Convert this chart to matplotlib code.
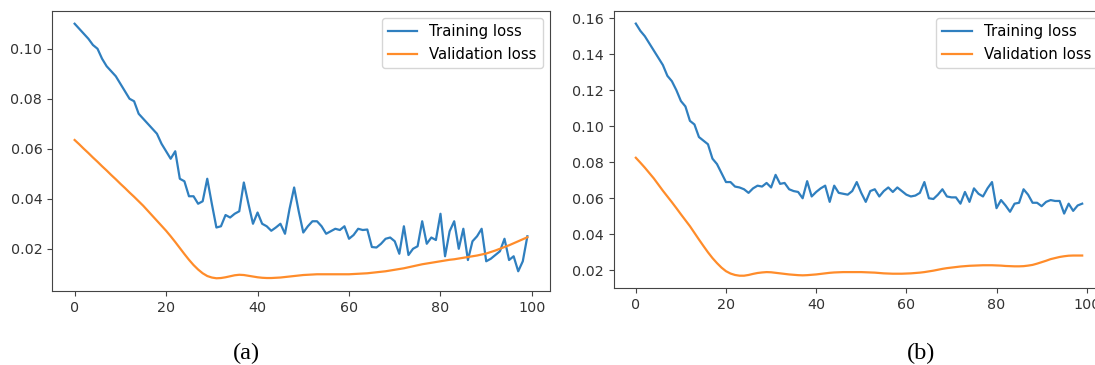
import numpy as np
import matplotlib
matplotlib.use('Agg')
import matplotlib.pyplot as plt

epochs = np.arange(100)

train_a = [
    0.110, 0.108, 0.106, 0.104, 0.1015, 0.100, 0.096, 0.093, 0.091, 0.089,
    0.086, 0.083, 0.080, 0.079, 0.074, 0.072, 0.070, 0.068, 0.066, 0.062,
    0.059, 0.056, 0.059, 0.048, 0.047, 0.041, 0.041, 0.038, 0.039, 0.048,
    0.038, 0.0285, 0.029, 0.0335, 0.0325, 0.034, 0.035, 0.0465, 0.038, 0.030,
    0.0345, 0.030, 0.029, 0.0272, 0.0285, 0.030, 0.026, 0.036, 0.0445, 0.035,
    0.0265, 0.029, 0.031, 0.031, 0.029, 0.026, 0.027, 0.028, 0.0275, 0.029,
    0.024, 0.0255, 0.028, 0.0275, 0.0277, 0.0207, 0.0205, 0.022, 0.024, 0.0245,
    0.023, 0.018, 0.029, 0.0175, 0.020, 0.021, 0.031, 0.022, 0.0245, 0.0235,
    0.034, 0.017, 0.027, 0.031, 0.020, 0.028, 0.0155, 0.023, 0.025, 0.028,
    0.015, 0.016, 0.0175, 0.019, 0.024, 0.0155, 0.017, 0.011, 0.015, 0.025,
]
val_a = [
    0.0635, 0.0618, 0.0600, 0.0583, 0.0565, 0.0548, 0.0530, 0.0513, 0.0495, 0.0478,
    0.0460, 0.0443, 0.0425, 0.0408, 0.0390, 0.0372, 0.0352, 0.0332, 0.0312, 0.0292,
    0.0272, 0.0250, 0.0227, 0.0203, 0.0179, 0.0156, 0.0135, 0.0117, 0.0102, 0.0091,
    0.0085, 0.0082, 0.0083, 0.0086, 0.0090, 0.0094, 0.0096, 0.0095, 0.0092, 0.0089,
    0.0086, 0.0084, 0.0083, 0.0083, 0.0084, 0.0085, 0.0087, 0.0089, 0.0091, 0.0093,
    0.0095, 0.0096, 0.0097, 0.0098, 0.0098, 0.0098, 0.0098, 0.0098, 0.0098, 0.0098,
    0.0098, 0.0099, 0.0100, 0.0101, 0.0102, 0.0104, 0.0106, 0.0108, 0.0110, 0.0113,
    0.0116, 0.0119, 0.0122, 0.0126, 0.0130, 0.0134, 0.0138, 0.0141, 0.0144, 0.0147,
    0.0150, 0.0153, 0.0156, 0.0158, 0.0161, 0.0164, 0.0167, 0.0170, 0.0173, 0.0177,
    0.0181, 0.0187, 0.0193, 0.0200, 0.0207, 0.0214, 0.0222, 0.0230, 0.0238, 0.0246,
]
train_b = [
    0.157, 0.153, 0.150, 0.146, 0.142, 0.138, 0.134, 0.128, 0.125, 0.120,
    0.114, 0.111, 0.103, 0.101, 0.094, 0.092, 0.090, 0.082, 0.079, 0.074,
    0.069, 0.069, 0.0665, 0.066, 0.065, 0.063, 0.0655, 0.067, 0.0665, 0.0685,
    0.066, 0.073, 0.068, 0.0685, 0.065, 0.064, 0.0635, 0.060, 0.0695, 0.061,
    0.0635, 0.0655, 0.067, 0.058, 0.067, 0.063, 0.0625, 0.062, 0.064, 0.069,
    0.063, 0.058, 0.064, 0.065, 0.061, 0.064, 0.066, 0.0635, 0.066, 0.064,
    0.062, 0.061, 0.0615, 0.063, 0.069, 0.060, 0.0596, 0.062, 0.065, 0.061,
    0.0605, 0.0605, 0.057, 0.0635, 0.058, 0.0655, 0.0625, 0.061, 0.0655, 0.069,
    0.0545, 0.059, 0.056, 0.0525, 0.057, 0.0575, 0.065, 0.062, 0.0575, 0.0575,
    0.0556, 0.058, 0.059, 0.0585, 0.0585, 0.0515, 0.057, 0.053, 0.056, 0.057,
]
val_b = [
    0.0825, 0.0798, 0.0770, 0.0740, 0.0710, 0.0676, 0.0642, 0.0610, 0.0578, 0.0545,
    0.0511, 0.0478, 0.0445, 0.0408, 0.0371, 0.0335, 0.0300, 0.0268, 0.0240, 0.0215,
    0.0195, 0.0182, 0.0174, 0.0170, 0.0170, 0.0174, 0.0180, 0.0185, 0.0188, 0.0190,
    0.0189, 0.0186, 0.0183, 0.0180, 0.0177, 0.0175, 0.0173, 0.0172, 0.0173, 0.0175,
    0.0177, 0.0180, 0.0183, 0.0186, 0.0188, 0.0189, 0.0190, 0.0190, 0.0190, 0.0190,
    0.0190, 0.0189, 0.0188, 0.0187, 0.0185, 0.0183, 0.0182, 0.0181, 0.0181, 0.0181,
    0.0182, 0.0183, 0.0185, 0.0187, 0.0190, 0.0194, 0.0198, 0.0203, 0.0208, 0.0212,
    0.0215, 0.0218, 0.0221, 0.0223, 0.0225, 0.0226, 0.0227, 0.0228, 0.0228, 0.0228,
    0.0227, 0.0226, 0.0224, 0.0223, 0.0222, 0.0222, 0.0223, 0.0226, 0.0230, 0.0237,
    0.0245, 0.0253, 0.0262, 0.0268, 0.0274, 0.0278, 0.0281, 0.0282, 0.0282, 0.0282,
]
panel_labels = ['(a)', '(b)']


def draw(ax, train, val):
    ax.plot(epochs, train, color='#2f7fbf', lw=1.6, label='Training loss')
    ax.plot(epochs, val, color='#ff8c2a', lw=1.6, label='Validation loss')
    ax.set_xticks([0, 20, 40, 60, 80, 100])
    ax.legend(loc='upper right', fontsize=10.7, frameon=True)
    for s in ax.spines.values():
        s.set_color('#444444')
    ax.tick_params(colors='#444444', labelcolor='#333333', labelsize=10.3)


fig = plt.figure(figsize=(10.95, 3.65), dpi=100)
W, H = 1095.0, 365.0
ax1 = fig.add_axes([52 / W, (H - 291) / H, 498 / W, 280 / H])
ax2 = fig.add_axes([613.5 / W, (H - 288.3) / H, 491 / W, 277.3 / H])
draw(ax1, train_a, val_a)
draw(ax2, train_b, val_b)

fig.text(246 / W, (H - 353) / H, panel_labels[0], ha='center', va='center',
         family='Liberation Serif', fontsize=17.5)
fig.text(921 / W, (H - 353) / H, panel_labels[1], ha='center', va='center',
         family='Liberation Serif', fontsize=17.5)

fig.savefig('out.png', dpi=100, facecolor='white')
